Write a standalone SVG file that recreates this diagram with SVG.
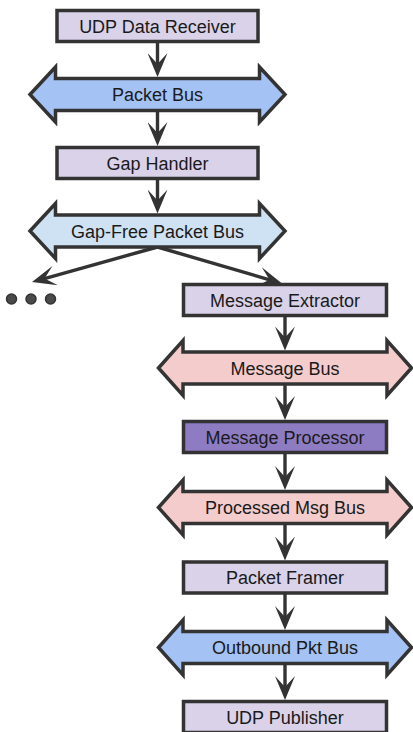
<svg xmlns="http://www.w3.org/2000/svg" width="413" height="732" viewBox="0 0 413 732">
  <style>
    .box { stroke: #333; stroke-width: 3.5; }
    .bus { stroke: #333; stroke-width: 3.5; stroke-linejoin: miter; }
    .stage { fill: #d9d2e9; }
    .core { fill: #8e7cc3; }
    .raw { fill: #a4c2f4; }
    .clean { fill: #cfe2f3; }
    .msg { fill: #f4cccc; }
    .label { font-family: "Liberation Sans", Arial, sans-serif; font-size: 18px; fill: #1a1a1a; text-anchor: middle; }
    .link { stroke: #333; stroke-width: 3.4; fill: none; marker-end: url(#head); }
    .dot { fill: #4a4a4a; stroke: #333; stroke-width: 1.5; }
  </style>
  <defs>
    <marker id="head" viewBox="0 0 24 20" refX="12" refY="10" markerWidth="24" markerHeight="20" markerUnits="userSpaceOnUse" orient="auto">
      <path d="M0,0 L24,10 L0,20 L11,10 Z" fill="#333"/>
    </marker>
  </defs>

  <!-- connectors -->
  <g id="connectors">
    <line class="link" x1="157.5" y1="42" x2="157.5" y2="65"/>
    <line class="link" x1="157.5" y1="110" x2="157.5" y2="134"/>
    <line class="link" x1="157.5" y1="179" x2="157.5" y2="201.5"/>
    <line class="link" x1="157.5" y1="247" x2="43.6" y2="278.8"/>
    <line class="link" x1="157.5" y1="247" x2="270.5" y2="280.1"/>
    <line class="link" x1="285" y1="316" x2="285" y2="338.5"/>
    <line class="link" x1="285" y1="384" x2="285" y2="408"/>
    <line class="link" x1="285" y1="453" x2="285" y2="478"/>
    <line class="link" x1="285" y1="523.5" x2="285" y2="548.5"/>
    <line class="link" x1="285" y1="593" x2="285" y2="618"/>
    <line class="link" x1="285" y1="663.5" x2="285" y2="688"/>
  </g>

  <g id="udp-data-receiver">
    <rect class="box stage" x="57" y="10.5" width="201" height="31"/>
    <text class="label" x="157.5" y="32.5">UDP Data Receiver</text>
  </g>

  <g id="packet-bus">
    <path class="bus raw" d="M30,94.5 L55.5,67 L55.5,78.5 L259.5,78.5 L259.5,67 L285,94.5 L259.5,122 L259.5,110.5 L55.5,110.5 L55.5,122 Z"/>
    <text class="label" x="157.5" y="101">Packet Bus</text>
  </g>

  <g id="gap-handler">
    <rect class="box stage" x="57" y="147.5" width="201" height="31"/>
    <text class="label" x="157.5" y="169.5">Gap Handler</text>
  </g>

  <g id="gap-free-packet-bus">
    <path class="bus clean" d="M30,231 L55.5,203.5 L55.5,215 L259.5,215 L259.5,203.5 L285,231 L259.5,258.5 L259.5,247 L55.5,247 L55.5,258.5 Z"/>
    <text class="label" x="157.5" y="237.5">Gap-Free Packet Bus</text>
  </g>

  <g id="more-consumers">
    <circle class="dot" cx="11.5" cy="299" r="5"/>
    <circle class="dot" cx="31" cy="299" r="5"/>
    <circle class="dot" cx="50.5" cy="299" r="5"/>
  </g>

  <g id="message-extractor">
    <rect class="box stage" x="183.5" y="284.5" width="203" height="31"/>
    <text class="label" x="285" y="306.5">Message Extractor</text>
  </g>

  <g id="message-bus">
    <path class="bus msg" d="M158.5,368 L183,340.5 L183,352 L387,352 L387,340.5 L411.5,368 L387,395.5 L387,384 L183,384 L183,395.5 Z"/>
    <text class="label" x="285" y="374.5">Message Bus</text>
  </g>

  <g id="message-processor">
    <rect class="box core" x="183.5" y="421.5" width="203" height="31"/>
    <text class="label" x="285" y="443.5">Message Processor</text>
  </g>

  <g id="processed-msg-bus">
    <path class="bus msg" d="M158.5,507.5 L183,480 L183,491.5 L387,491.5 L387,480 L411.5,507.5 L387,535 L387,523.5 L183,523.5 L183,535 Z"/>
    <text class="label" x="285" y="514">Processed Msg Bus</text>
  </g>

  <g id="packet-framer">
    <rect class="box stage" x="183.5" y="562" width="203" height="31"/>
    <text class="label" x="285" y="584">Packet Framer</text>
  </g>

  <g id="outbound-pkt-bus">
    <path class="bus raw" d="M158.5,647.5 L183,620 L183,631.5 L387,631.5 L387,620 L411.5,647.5 L387,675 L387,663.5 L183,663.5 L183,675 Z"/>
    <text class="label" x="285" y="654">Outbound Pkt Bus</text>
  </g>

  <g id="udp-publisher">
    <rect class="box stage" x="183.5" y="701.5" width="203" height="31"/>
    <text class="label" x="285" y="723.5">UDP Publisher</text>
  </g>
</svg>
